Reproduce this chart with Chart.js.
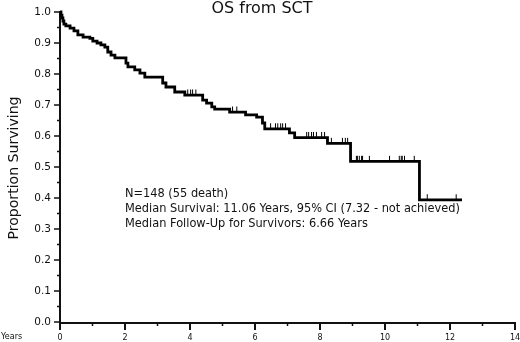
<!DOCTYPE html>
<html lang="en">
<head>
  <meta charset="UTF-8">
  <title>OS from SCT</title>
  <script src="https://cdn.jsdelivr.net/npm/chart.js"></script>
  <style>
    html, body { margin: 0; padding: 0; background: #fff; }
    canvas { display: block; }
  </style>
</head>
<body>
  <canvas id="kmChart" width="520" height="342"></canvas>

  <script>
    // Kaplan-Meier steps (years, proportion surviving)
    const eventTimes = [0, 0.03, 0.06, 0.09, 0.12, 0.18, 0.31, 0.43, 0.55, 0.71, 0.92, 1.01, 1.14, 1.26, 1.38,
      1.47, 1.57, 1.69, 2.03, 2.09, 2.30, 2.46, 2.61, 3.16, 3.26, 3.53, 3.84, 4.39, 4.51, 4.67, 4.76,
      5.22, 5.71, 6.05, 6.23, 6.30, 7.06, 7.22, 8.23, 8.94, 11.06, 12.37];
    const survival = [1.000, 0.990, 0.981, 0.971, 0.961, 0.955, 0.948, 0.939, 0.926, 0.919, 0.915, 0.906, 0.900, 0.894, 0.887,
      0.871, 0.861, 0.852, 0.835, 0.823, 0.813, 0.803, 0.790, 0.771, 0.758, 0.742, 0.732, 0.716, 0.706, 0.694, 0.687,
      0.677, 0.668, 0.661, 0.642, 0.623, 0.610, 0.595, 0.576, 0.518, 0.394, 0.394];

    // censored observations (tick marks on the curve)
    const censorTimes = [3.93, 4.02, 4.08, 4.18, 5.31, 5.44, 6.48, 6.63, 6.70, 6.79, 6.85, 6.94,
      7.59, 7.65, 7.74, 7.80, 7.89, 8.05, 8.14, 8.35, 8.69, 8.78, 8.85,
      9.12, 9.15, 9.21, 9.28, 9.31, 9.52, 10.14, 10.44, 10.50, 10.53, 10.60, 10.90, 11.30, 12.19];

    const xTicks = [0, 2, 4, 6, 8, 10, 12, 14];
    const yTicks = [0.0, 0.1, 0.2, 0.3, 0.4, 0.5, 0.6, 0.7, 0.8, 0.9, 1.0];

    const chartTitle = 'OS from SCT';
    const yTitle = 'Proportion Surviving';
    const xTitle = 'Years';
    const notes = [
      'N=148 (55 death)',
      'Median Survival: 11.06 Years, 95% CI (7.32 - not achieved)',
      'Median Follow-Up for Survivors: 6.66 Years'
    ];

    function survivalAt(t) {
      let s = survival[0];
      for (let i = 0; i < eventTimes.length; i++) {
        if (eventTimes[i] <= t) s = survival[i];
      }
      return s;
    }

    function fitFont(ctx, text, width, family) {
      ctx.font = '20px ' + family;
      const size = 20 * width / ctx.measureText(text).width;
      return size.toFixed(2) + 'px ' + family;
    }

    const FONT = '"DejaVu Sans"';
    const INK = '#111';

    // axes, labels and text drawn against the chart's own scales
    const axesPlugin = {
      id: 'kmAxes',
      beforeDatasetsDraw(chart) {
        const ctx = chart.ctx;
        const xs = chart.scales.x;
        const ys = chart.scales.y;
        const x0 = xs.getPixelForValue(0);
        const y0 = ys.getPixelForValue(0);
        ctx.save();
        ctx.strokeStyle = INK;
        ctx.fillStyle = INK;

        // axis lines
        ctx.lineWidth = 2;
        ctx.beginPath();
        ctx.moveTo(x0, ys.getPixelForValue(1) - 1);
        ctx.lineTo(x0, y0 + 1);
        ctx.lineTo(xs.getPixelForValue(14) + 1, y0 + 1);
        ctx.stroke();

        // y ticks
        ctx.lineWidth = 1.5;
        ctx.font = '10.5px ' + FONT;
        ctx.textAlign = 'right';
        ctx.textBaseline = 'middle';
        for (let i = 0; i <= 20; i++) {
          const y = ys.getPixelForValue(i / 20);
          const len = i % 2 === 0 ? 6 : 3;
          ctx.beginPath();
          ctx.moveTo(x0 - len, y);
          ctx.lineTo(x0, y);
          ctx.stroke();
        }
        yTicks.forEach(v => {
          ctx.fillText(v.toFixed(1), x0 - 9, ys.getPixelForValue(v) + 0.5);
        });

        // x ticks
        ctx.font = '8px ' + FONT;
        ctx.textAlign = 'center';
        for (let i = 0; i <= 14; i++) {
          const x = xs.getPixelForValue(i);
          const len = i % 2 === 0 ? 7 : 3;
          ctx.lineWidth = i % 2 === 0 ? 2 : 1.5;
          ctx.beginPath();
          ctx.moveTo(x, y0 + 1);
          ctx.lineTo(x, y0 + 1 + len);
          ctx.stroke();
        }
        xTicks.forEach(v => {
          ctx.fillText(String(v), xs.getPixelForValue(v), y0 + 16);
        });
        ctx.textAlign = 'left';
        ctx.fillText(xTitle, 1, y0 + 15);

        // title
        ctx.textAlign = 'center';
        ctx.font = fitFont(ctx, chartTitle, 101, FONT);
        ctx.fillText(chartTitle, 262, 8.5);

        // y title
        ctx.save();
        ctx.translate(14, 168);
        ctx.rotate(-Math.PI / 2);
        ctx.font = fitFont(ctx, yTitle, 143, FONT);
        ctx.fillText(yTitle, 0, 0);
        ctx.restore();

        // notes
        ctx.textAlign = 'left';
        ctx.font = fitFont(ctx, notes[1], 335, FONT);
        notes.forEach((line, i) => {
          ctx.fillText(line, 125, 194.5 + i * 15);
        });

        ctx.restore();
      }
    };

    const ctx = document.getElementById('kmChart').getContext('2d');
    new Chart(ctx, {
      type: 'line',
      data: {
        datasets: [
          {
            label: 'OS',
            data: eventTimes.map((t, i) => ({ x: t, y: survival[i] })),
            stepped: true,
            borderColor: '#000',
            borderWidth: 2.8,
            pointRadius: 0,
            fill: false,
            clip: false
          },
          {
            label: 'Censored',
            data: censorTimes.map(t => ({ x: t, y: survivalAt(t) + 0.01 })),
            showLine: false,
            pointStyle: 'line',
            rotation: 90,
            pointRadius: 2.5,
            borderColor: '#000',
            borderWidth: 1,
            clip: false
          }
        ]
      },
      options: {
        responsive: false,
        animation: false,
        events: [],
        layout: { padding: { left: 60, right: 4, top: 12, bottom: 20 } },
        plugins: {
          legend: { display: false },
          tooltip: { enabled: false },
          title: { display: false }
        },
        scales: {
          x: { type: 'linear', min: 0, max: 14, display: false },
          y: { type: 'linear', min: 0, max: 1, display: false }
        }
      },
      plugins: [axesPlugin]
    });
  </script>
</body>
</html>
